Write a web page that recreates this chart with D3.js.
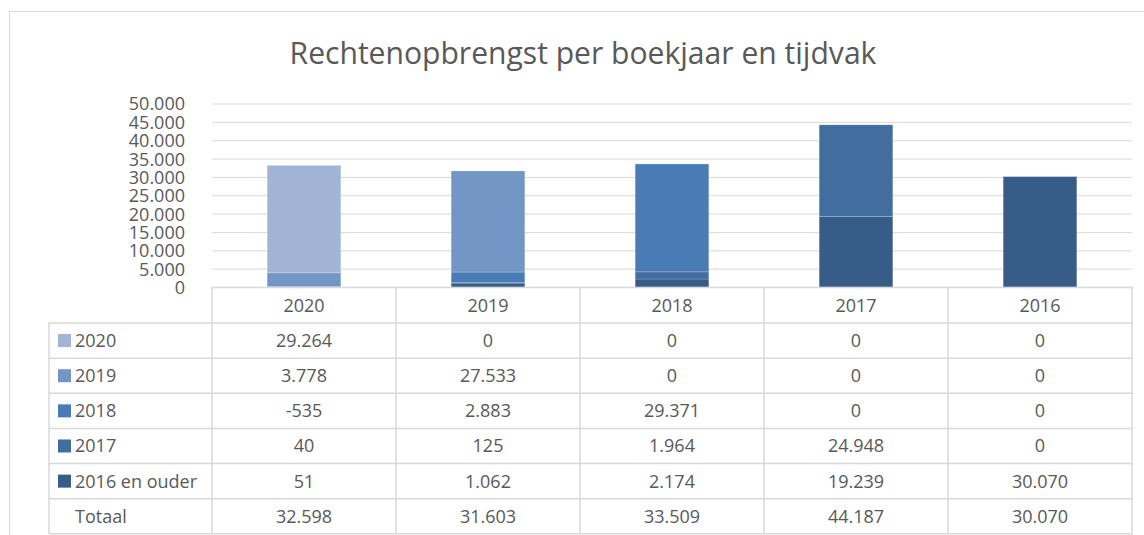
<!DOCTYPE html>
<html>
<head>
<meta charset="utf-8">
<script src="https://cdn.jsdelivr.net/npm/d3@7"></script>
<style>
  body { margin: 0; background: #fff; }
  text { font-family: "Open Sans", "Liberation Sans", sans-serif; fill: #595959; }
</style>
</head>
<body>
<svg id="chart"></svg>
<script>
// Boekjaren (categorieën op de x-as)
const categories = ["2020", "2019", "2018", "2017", "2016"];
// Tijdvakken (series), in tabelvolgorde
const seriesNames = ["2020", "2019", "2018", "2017", "2016 en ouder"];
const values2020 = [29264, 0, 0, 0, 0];
const values2019 = [3778, 27533, 0, 0, 0];
const values2018 = [-535, 2883, 29371, 0, 0];
const values2017 = [40, 125, 1964, 24948, 0];
const values2016 = [51, 1062, 2174, 19239, 30070];
const totals = [32598, 31603, 33509, 44187, 30070];
const yTicks = [0, 5000, 10000, 15000, 20000, 25000, 30000, 35000, 40000, 45000, 50000];
const colors = ["#a2b4d6", "#7396c7", "#4a7bb5", "#426d9f", "#375c88"];

const seriesValues = [values2020, values2019, values2018, values2017, values2016];

const width = 1144;
const height = 535;

const nl = d3.formatLocale({ decimal: ",", thousands: ".", grouping: [3], currency: ["€", ""], minus: "-" });
const fmt = nl.format(",.0f");

const svg = d3.select("#chart")
    .attr("width", width)
    .attr("height", height);

// rand van het grafiekgebied
svg.append("rect")
    .attr("x", 9.5).attr("y", 11.5)
    .attr("width", 1160).attr("height", 560)
    .attr("fill", "none")
    .attr("stroke", "#d9d9d9");

// titel, breedte afgestemd op het origineel
const title = svg.append("text")
    .attr("x", 583)
    .attr("y", 64)
    .attr("text-anchor", "middle")
    .style("font-size", "26px")
    .text("Rechtenopbrengst per boekjaar en tijdvak");
const tw = title.node().getComputedTextLength();
title.style("font-size", (26 * 587 / tw).toFixed(2) + "px");

const plotLeft = 212, plotRight = 1132;
const plotTop = 103.5, plotBottom = 287;

const x = d3.scaleBand()
    .domain(categories)
    .range([plotLeft, plotRight])
    .paddingInner(0.6)
    .paddingOuter(0.3);

const y = d3.scaleLinear()
    .domain([0, 50000])
    .range([plotBottom, plotTop]);

// rasterlijnen + aslabels
const yAxis = svg.append("g")
    .attr("transform", `translate(${plotLeft},0)`)
    .call(d3.axisLeft(y)
        .tickValues(yTicks)
        .tickSize(-(plotRight - plotLeft))
        .tickPadding(27)
        .tickFormat(fmt));
yAxis.select(".domain").remove();
yAxis.selectAll(".tick line").attr("stroke", "#d9d9d9");
yAxis.selectAll(".tick text")
    .style("font-size", "18px")
    .attr("fill", "#595959")
    .attr("dy", "0.36em");

// gestapelde kolommen (onderaan "2016 en ouder")
const rows = categories.map((c, i) => {
    const r = { cat: c };
    seriesNames.forEach((s, j) => { r[s] = seriesValues[j][i]; });
    return r;
});
const stackKeys = seriesNames.slice().reverse();
const stacked = d3.stack()
    .keys(stackKeys)
    .offset(d3.stackOffsetDiverging)(rows);

svg.append("clipPath").attr("id", "plotClip")
    .append("rect")
    .attr("x", plotLeft).attr("y", plotTop - 20)
    .attr("width", plotRight - plotLeft)
    .attr("height", plotBottom - plotTop + 20);

svg.append("g")
    .attr("clip-path", "url(#plotClip)")
    .selectAll("g")
    .data(stacked)
    .join("g")
    .attr("fill", d => colors[seriesNames.indexOf(d.key)])
    .selectAll("rect")
    .data(d => d)
    .join("rect")
    .attr("x", d => x(d.data.cat))
    .attr("width", x.bandwidth())
    .attr("y", d => y(d[1]))
    .attr("height", d => Math.max(0, y(d[0]) - y(d[1])))
    .attr("stroke", "#ffffff")
    .attr("stroke-opacity", 0.18)
    .attr("stroke-width", 1);

// datatabel
const tableLeft = 49;
const headerBottom = 323;
const rowH = 35.14;
const lineColor = "#d9d9d9";
const nRows = seriesNames.length + 1;
const tableBottom = headerBottom + nRows * rowH;
const colEdges = [plotLeft].concat(categories.map(c => x(c) + x.bandwidth() / 2 + x.step() / 2));

const table = svg.append("g");

// horizontale lijnen
table.append("line")
    .attr("x1", plotLeft).attr("x2", plotRight + 1)
    .attr("y1", plotBottom + 0.5).attr("y2", plotBottom + 0.5)
    .attr("stroke", lineColor).attr("stroke-width", 1.5);
d3.range(nRows + 1).forEach(i => {
    const yy = headerBottom + i * rowH;
    table.append("line")
        .attr("x1", tableLeft).attr("x2", plotRight + 1)
        .attr("y1", yy).attr("y2", yy)
        .attr("stroke", lineColor).attr("stroke-width", 1.5);
});

// verticale lijnen
table.append("line")
    .attr("x1", tableLeft).attr("x2", tableLeft)
    .attr("y1", headerBottom).attr("y2", tableBottom)
    .attr("stroke", lineColor).attr("stroke-width", 1.5);
colEdges.forEach(cx => {
    table.append("line")
        .attr("x1", cx).attr("x2", cx)
        .attr("y1", plotBottom).attr("y2", tableBottom)
        .attr("stroke", lineColor).attr("stroke-width", 1.5);
});

// kolomkoppen
table.selectAll(".head")
    .data(categories)
    .join("text")
    .attr("class", "head")
    .attr("x", d => x(d) + x.bandwidth() / 2)
    .attr("y", (plotBottom + headerBottom) / 2 + 1)
    .attr("dy", "0.36em")
    .attr("text-anchor", "middle")
    .style("font-size", "18px")
    .text(d => d);

// rijen per tijdvak
seriesNames.forEach((s, j) => {
    const cy = headerBottom + j * rowH + rowH / 2;
    table.append("rect")
        .attr("x", 58).attr("y", cy - 6.5)
        .attr("width", 13).attr("height", 13)
        .attr("fill", colors[j]);
    table.append("text")
        .attr("x", 75).attr("y", cy)
        .attr("dy", "0.36em")
        .style("font-size", "18px")
        .text(s);
    table.selectAll(null)
        .data(seriesValues[j])
        .join("text")
        .attr("x", (d, i) => x(categories[i]) + x.bandwidth() / 2)
        .attr("y", cy)
        .attr("dy", "0.36em")
        .attr("text-anchor", "middle")
        .style("font-size", "18px")
        .text(d => fmt(d));
});

// totaalrij
const ty = headerBottom + seriesNames.length * rowH + rowH / 2;
table.append("text")
    .attr("x", 75).attr("y", ty)
    .attr("dy", "0.36em")
    .style("font-size", "18px")
    .text("Totaal");
table.selectAll(".tot")
    .data(totals)
    .join("text")
    .attr("class", "tot")
    .attr("x", (d, i) => x(categories[i]) + x.bandwidth() / 2)
    .attr("y", ty)
    .attr("dy", "0.36em")
    .attr("text-anchor", "middle")
    .style("font-size", "18px")
    .text(d => fmt(d));
</script>
</body>
</html>
